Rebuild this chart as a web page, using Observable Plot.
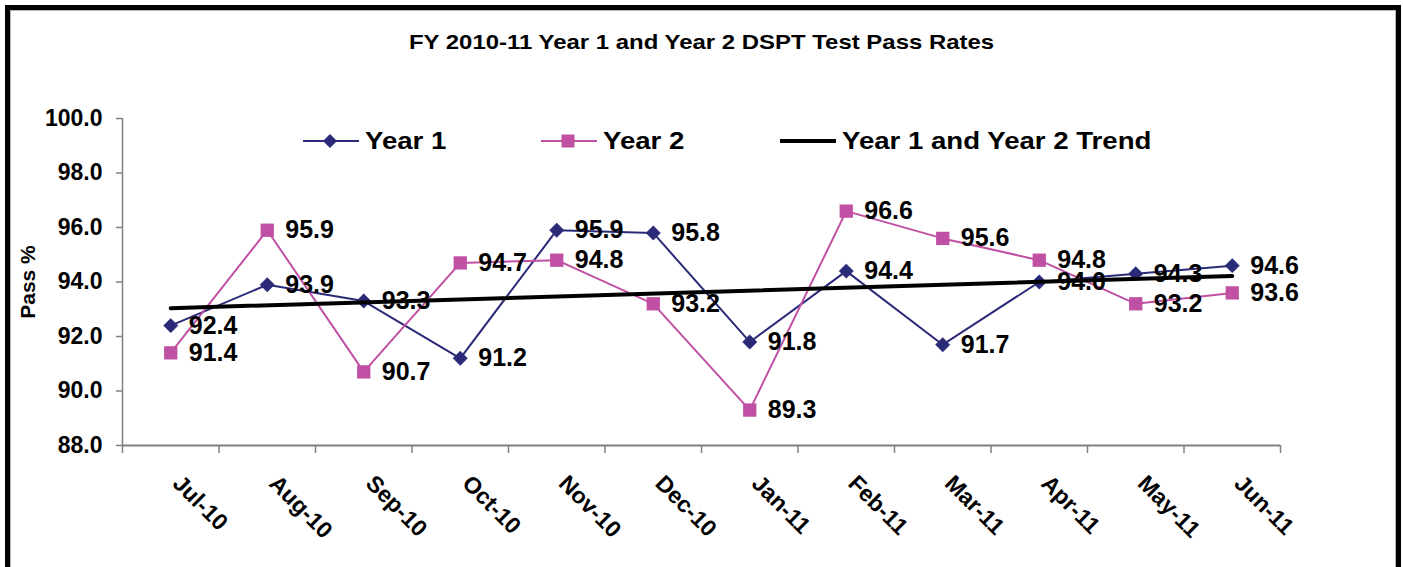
<!DOCTYPE html>
<html>
<head>
<meta charset="utf-8">
<script src="https://cdn.jsdelivr.net/npm/d3@7"></script>
<script src="https://cdn.jsdelivr.net/npm/@observablehq/plot@0.6"></script>
<style>
  html, body { margin: 0; padding: 0; background: #fff; }
  body { width: 1403px; height: 567px; overflow: hidden; position: relative; font-family: "Liberation Sans", Arial, sans-serif; }
  #frame { position: absolute; left: 5px; top: 5px; width: 1386px; height: 700px; border: 5px solid #000; border-bottom: none; }
  #frame::after { content: ""; position: absolute; left: 0; top: 0; right: 0; bottom: 0; border-left: 1px solid #b8b8b8; border-top: 1px solid #b8b8b8; border-right: 1px solid #b8b8b8; }
  #title { position: absolute; left: 0; width: 1403px; top: 30px; text-align: center; font-weight: bold; font-size: 21px; color: #000; transform: scaleX(1.14); transform-origin: 701px 0; }
  #chart { position: absolute; left: 0; top: 0; }
  #legend { position: absolute; top: 126px; left: 0; height: 30px; font-weight: bold; font-size: 24px; color: #000; }
  .item { position: absolute; top: 0; display: flex; align-items: center; white-space: nowrap; height: 30px; }
  .item svg { margin-right: 6px; }
  .item span { display: inline-block; transform: scaleX(1.15); transform-origin: 0 50%; }
</style>
</head>
<body>
<div id="frame"></div>
<div id="chart"></div>
<div id="title">FY 2010-11 Year 1 and Year 2 DSPT Test Pass Rates</div>
<div id="legend"></div>
<script>
const months = ["Jul-10","Aug-10","Sep-10","Oct-10","Nov-10","Dec-10","Jan-11","Feb-11","Mar-11","Apr-11","May-11","Jun-11"];
const year1 = [92.4, 93.9, 93.3, 91.2, 95.9, 95.8, 91.8, 94.4, 91.7, 94.0, 94.3, 94.6];
const year2 = [91.4, 95.9, 90.7, 94.7, 94.8, 93.2, 89.3, 96.6, 95.6, 94.8, 93.2, 93.6];
const yTicks = [88, 90, 92, 94, 96, 98, 100];
const seriesNames = ["Year 1", "Year 2", "Year 1 and Year 2 Trend"];

const NAVY = "#2a2a78";
const PINK = "#c050a4";
const AXIS = "#808080";

const rows1 = year1.map((v, i) => ({i, month: months[i], value: v, series: seriesNames[0]}));
const rows2 = year2.map((v, i) => ({i, month: months[i], value: v, series: seriesNames[1]}));
const allRows = rows1.concat(rows2);
const boundaries = d3.range(months.length + 1).map(k => k - 0.5);

const chart = Plot.plot({
  width: 1403,
  height: 567,
  marginLeft: 122,
  marginRight: 123,
  marginTop: 118,
  marginBottom: 122,
  style: {background: "transparent", fontFamily: "'Liberation Sans', Arial, sans-serif", fontWeight: "bold", color: "#000"},
  x: {type: "linear", domain: [-0.5, months.length - 0.5]},
  y: {domain: [88, 100]},
  marks: [
    Plot.axisY({ticks: yTicks, tickFormat: d3.format(".1f"), tickSize: 6, tickPadding: 14, stroke: AXIS, strokeWidth: 1.5, fontSize: 23, fill: "#000",
      label: "Pass %", labelAnchor: "center", labelOffset: 102, labelArrow: "none"}),
    Plot.axisX({ticks: boundaries, tickFormat: () => "", tickSize: 8, stroke: AXIS, strokeWidth: 1.5, label: null}),
    Plot.axisX({ticks: d3.range(months.length), tickFormat: i => months[i], tickSize: 0, tickRotate: 45, tickPadding: 34, dx: 6, fontSize: 23, fill: "#000", label: null}),
    Plot.ruleX([-0.5], {stroke: AXIS, strokeWidth: 1.5}),
    Plot.ruleY([88], {stroke: AXIS, strokeWidth: 2}),
    Plot.line(rows1, {x: "i", y: "value", stroke: NAVY, strokeWidth: 2}),
    Plot.line(rows2, {x: "i", y: "value", stroke: PINK, strokeWidth: 2}),
    Plot.dot(rows1, {x: "i", y: "value", symbol: "diamond2", r: 6.5, fill: NAVY, stroke: NAVY, strokeWidth: 0.5}),
    Plot.dot(rows2, {x: "i", y: "value", symbol: "square", r: 7.5, fill: PINK, stroke: PINK, strokeWidth: 0}),
    Plot.linearRegressionY(allRows, {x: "i", y: "value", stroke: "#000", strokeWidth: 4, ci: 0}),
    Plot.text(allRows, {x: "i", y: "value", text: d => d.value.toFixed(1), dx: 18, textAnchor: "start", fontSize: 25, fontWeight: "bold", fill: "#000"})
  ]
});
document.getElementById("chart").appendChild(chart);
// make the y-axis title a little smaller than the tick labels
chart.querySelectorAll("[aria-label='y-axis label'] text").forEach(t => t.setAttribute("font-size", 21));

// Legend
const legend = document.getElementById("legend");
const legendItems = [
  {name: seriesNames[0], color: NAVY, marker: "diamond", width: 2, left: 303},
  {name: seriesNames[1], color: PINK, marker: "square", width: 2, left: 541},
  {name: seriesNames[2], color: "#000", marker: null, width: 4, left: 780}
];
for (const it of legendItems) {
  const div = document.createElement("div");
  div.className = "item";
  div.style.left = it.left + "px";
  let marker = "";
  if (it.marker === "diamond") marker = `<path d="M27,8 L34,15 L27,22 L20,15 Z" fill="${it.color}"/>`;
  if (it.marker === "square") marker = `<rect x="20.5" y="8.5" width="13" height="13" fill="${it.color}"/>`;
  div.innerHTML = `<svg width="56" height="30"><line x1="0" x2="56" y1="15" y2="15" stroke="${it.color}" stroke-width="${it.width}"/>${marker}</svg><span>${it.name}</span>`;
  legend.appendChild(div);
}
</script>
</body>
</html>
